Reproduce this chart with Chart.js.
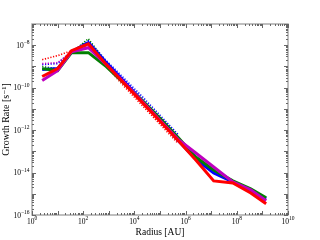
<!DOCTYPE html>
<html>
<head>
<meta charset="utf-8">
<script src="https://cdn.jsdelivr.net/npm/chart.js@4/dist/chart.umd.min.js"></script>
<style>
html,body{margin:0;padding:0;background:#fff;}
#wrap{width:320px;height:240px;position:relative;}
</style>
</head>
<body>
<div id="wrap"><canvas id="c" width="320" height="240"></canvas></div>
<script>
// Radius [AU]
const radius = [2.5, 10, 35, 160, 800, 4000, 2e4, 1e5, 5e5, 2.5e6, 1.25e7, 7e7, 3.5e8, 1.4e9];
// Growth rates [s^-1], solid curves
const blueSolid    = [7.1e-10, 7.9e-10, 4.95e-9, 1.31e-8, 1.51e-9, 1.95e-10, 2.51e-11, 3.24e-12, 3.36e-13, 4.34e-14, 9.6e-15, 3.63e-15, 1.37e-15, 5.8e-16];
const greenSolid   = [7.9e-10, 6.4e-10, 4.45e-9, 4.45e-9, 9.8e-10, 1.57e-10, 2.51e-11, 3.6e-12, 4.65e-13, 5.4e-14, 1.32e-14, 4.05e-15, 1.7e-15, 6.5e-16];
const magentaSolid = [2.17e-10, 6.4e-10, 4.95e-9, 7.6e-9, 1.22e-9, 1.75e-10, 2.26e-11, 2.91e-12, 3.75e-13, 8.3e-14, 1.83e-14, 3.63e-15, 1.53e-15, 4.67e-16];
const redSolid     = [3.35e-10, 7.9e-10, 5.5e-9, 1.17e-8, 1.22e-9, 1.57e-10, 2.03e-11, 2.61e-12, 3.36e-13, 3.9e-14, 4.05e-15, 3.26e-15, 1.1e-15, 3.4e-16];
// Dotted curves (inner radii only)
const blueDotted    = [1.22e-9, 1.36e-9, 4.95e-9, 1.63e-8, 1.88e-9, 2.7e-10, 3.87e-11, 4.99e-12, 6.4e-13];
const greenDotted   = [9.8e-10, 7.9e-10, 4.45e-9, 2.02e-8, 1.51e-9, 1.95e-10, 2.8e-11, 3.6e-12, 4.17e-13];
const magentaDotted = [1.36e-9, 1.51e-9, 4.95e-9, 8.5e-9, 1.22e-9, 1.57e-10, 2.03e-11, 2.61e-12, 3.36e-13];
const redDotted     = [2.09e-9, 3.22e-9, 5.5e-9, 1.05e-8, 9.8e-10, 1.14e-10, 1.47e-11, 1.89e-12, 2.43e-13];
// Tick labels: 10^exponent
const xTickValues = [1, 1e2, 1e4, 1e6, 1e8, 1e10];
const xTickExps = ['0', '2', '4', '6', '8', '10'];
const yTickValues = [1e-16, 1e-14, 1e-12, 1e-10, 1e-8];
const yTickExps = ['\u221216', '\u221214', '\u221212', '\u221210', '\u22128'];

const pts = (ys) => ys.map((v, i) => ({x: radius[i], y: v}));
const solid = (label, color, ys, order) => ({label, data: pts(ys), borderColor: color, backgroundColor: color, borderWidth: 3, pointRadius: 0, tension: 0, order});
const dotted = (label, color, ys, order) => ({label, data: pts(ys), borderColor: color, backgroundColor: color, borderWidth: 1.6, borderDash: [1.2, 1.6], pointRadius: 0, tension: 0, order});

const serif = "'Liberation Serif', 'DejaVu Serif', serif";
const baseFont = "7.5px " + serif;
const expFont = "5.5px " + serif;

function drawPow(ctx, exp, x, baseline, mode) {
  ctx.font = baseFont;
  const wb = ctx.measureText('10').width;
  ctx.font = expFont;
  const we = ctx.measureText(exp).width;
  const total = wb + we;
  const start = mode === 'center' ? x - total / 2 : x - total;
  ctx.font = baseFont;
  ctx.fillText('10', start, baseline);
  ctx.font = expFont;
  ctx.fillText(exp, start + wb, baseline - 3.5);
}

const framePlugin = {
  id: 'frame',
  afterDatasetsDraw(chart) {
    const {ctx, chartArea: a, scales} = chart;
    ctx.save();
    ctx.strokeStyle = '#aaaaaa';
    ctx.lineWidth = 1.5;
    ctx.strokeRect(a.left, a.top, a.right - a.left, a.bottom - a.top);
    ctx.strokeStyle = '#666666';
    ctx.lineWidth = 1;
    for (let e = 0; e <= 10; e++) {
      for (let m = 1; m <= 9; m++) {
        const v = m * Math.pow(10, e);
        if (v > 1e10) break;
        const px = Math.round(scales.x.getPixelForValue(v)) + 0.5;
        const len = m === 1 ? 4 : 2;
        ctx.beginPath();
        ctx.moveTo(px, a.bottom); ctx.lineTo(px, a.bottom - len);
        ctx.moveTo(px, a.top); ctx.lineTo(px, a.top + len);
        ctx.stroke();
      }
    }
    for (let e = -16; e <= -7; e++) {
      for (let m = 1; m <= 9; m++) {
        const v = m * Math.pow(10, e);
        if (v > 1e-7 * 1.0001) break;
        const py = Math.round(scales.y.getPixelForValue(v)) + 0.5;
        const len = m === 1 ? 4 : 2;
        ctx.beginPath();
        ctx.moveTo(a.left, py); ctx.lineTo(a.left + len, py);
        ctx.moveTo(a.right, py); ctx.lineTo(a.right - len, py);
        ctx.stroke();
      }
    }
    // tick labels
    ctx.fillStyle = '#000';
    ctx.textAlign = 'left';
    ctx.textBaseline = 'alphabetic';
    xTickValues.forEach((v, i) => {
      drawPow(ctx, xTickExps[i], scales.x.getPixelForValue(v), a.bottom + 8.5, 'center');
    });
    yTickValues.forEach((v, i) => {
      drawPow(ctx, yTickExps[i], a.left - 2.5, scales.y.getPixelForValue(v) + 2.5, 'right');
    });
    ctx.restore();
  }
};

new Chart(document.getElementById('c'), {
  type: 'line',
  data: {
    datasets: [
      dotted('blue dotted', '#0000ff', blueDotted, 8),
      dotted('green dotted', '#008000', greenDotted, 7),
      dotted('magenta dotted', '#bf00bf', magentaDotted, 6),
      dotted('red dotted', '#ff0000', redDotted, 5),
      solid('blue', '#0000ff', blueSolid, 4),
      solid('green', '#008000', greenSolid, 3),
      solid('magenta', '#bf00bf', magentaSolid, 2),
      solid('red', '#ff0000', redSolid, 1)
    ]
  },
  options: {
    responsive: false,
    animation: false,
    events: [],
    layout: {padding: {left: 0, right: 32, top: 24, bottom: 0}},
    plugins: {legend: {display: false}, tooltip: {enabled: false}},
    scales: {
      x: {
        type: 'logarithmic', min: 1, max: 1e10,
        grid: {display: false},
        border: {display: false},
        afterBuildTicks: s => { s.ticks = xTickValues.map(v => ({value: v})); },
        afterFit: s => { s.height = 25; },
        ticks: {display: false},
        title: {display: true, text: 'Radius [AU]', color: '#000', font: {family: serif, size: 9.5}, padding: {top: 0, bottom: 2}}
      },
      y: {
        type: 'logarithmic', min: 1e-16, max: 1e-7,
        grid: {display: false},
        border: {display: false},
        afterBuildTicks: s => { s.ticks = yTickValues.map(v => ({value: v})); },
        afterFit: s => { s.width = 32; },
        ticks: {display: false},
        title: {display: true, text: 'Growth Rate [s\u207b\u00b9]', color: '#000', font: {family: serif, size: 10}, padding: {top: 0.5, bottom: 0}}
      }
    }
  },
  plugins: [framePlugin]
});
</script>
</body>
</html>
